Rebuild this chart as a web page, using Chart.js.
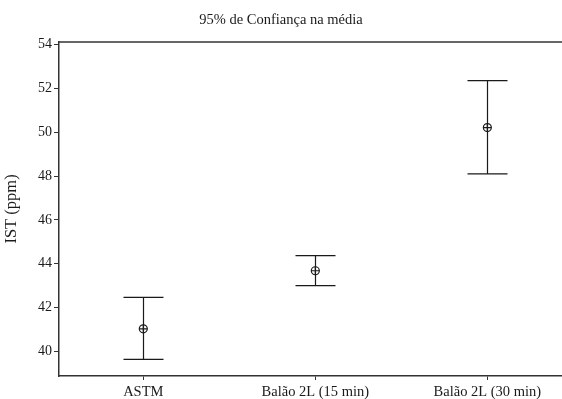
<!DOCTYPE html>
<html><head><meta charset="utf-8">
<script src="https://cdn.jsdelivr.net/npm/chart.js@4/dist/chart.umd.min.js"></script>
<style>html,body{margin:0;padding:0;background:#fff;}#wrap{width:562px;height:399px;}</style>
</head><body><div id="wrap"><canvas id="c" width="562" height="399"></canvas></div>
<script>
const categories = ['ASTM', 'Balão 2L (15 min)', 'Balão 2L (30 min)'];
const means = [41.03, 43.68, 50.21];
const lower = [39.64, 43.0, 48.1];
const upper = [42.47, 44.37, 52.35];
const yTicks = [40, 42, 44, 46, 48, 50, 52, 54];

const FONT = "'Liberation Serif', 'Times New Roman', serif";
const INK = '#1a1a1a';

const errorBars = {
  id: 'errorBars',
  afterDatasetsDraw(chart) {
    const ctx = chart.ctx, xs = chart.scales.x, ys = chart.scales.y;
    ctx.save();
    ctx.strokeStyle = INK;
    ctx.lineWidth = 1.2;
    for (let i = 0; i < categories.length; i++) {
      const x = Math.round(xs.getPixelForValue(i)) + 0.5;
      const yl = ys.getPixelForValue(lower[i]);
      const yh = ys.getPixelForValue(upper[i]);
      ctx.beginPath();
      ctx.moveTo(x, yh); ctx.lineTo(x, yl);
      ctx.moveTo(x - 20, yh); ctx.lineTo(x + 20, yh);
      ctx.moveTo(x - 20, yl); ctx.lineTo(x + 20, yl);
      ctx.stroke();
    }
    ctx.restore();
  }
};
const frame = {
  id: 'frame',
  afterDraw(chart) {
    const a = chart.chartArea, ctx = chart.ctx;
    ctx.save();
    ctx.strokeStyle = '#333';
    ctx.lineWidth = 1.5;
    ctx.beginPath();
    ctx.moveTo(a.left, a.top); ctx.lineTo(a.right, a.top);
    ctx.stroke();
    ctx.restore();
  }
};

const pts = means.map((m, i) => ({x: i, y: m}));
new Chart(document.getElementById('c'), {
  type: 'scatter',
  data: {
    datasets: [
      {data: pts, pointStyle: 'circle', pointRadius: 4, borderColor: INK, backgroundColor: 'rgba(0,0,0,0)', borderWidth: 1.2},
      {data: pts, pointStyle: 'cross', pointRadius: 4, borderColor: INK, borderWidth: 1.2}
    ]
  },
  options: {
    responsive: false,
    animation: false,
    layout: {autoPadding: false, padding: {left: 0, right: 0, top: 0, bottom: 0}},
    plugins: {
      legend: {display: false},
      tooltip: {enabled: false},
      title: {display: true, text: '95% de Confiança na média', color: INK,
        font: {family: FONT, size: 14.5, weight: 'normal'}, padding: {top: 11, bottom: 13.5}}
    },
    scales: {
      x: {
        type: 'linear', min: -0.49, max: 2.434,
        afterBuildTicks: s => { s.ticks = [0, 1, 2].map(v => ({value: v})); },
        afterFit: s => { s.height = 23; s.paddingLeft = 0; s.paddingRight = 0; },
        border: {display: true, color: '#333', width: 1.5},
        grid: {display: true, drawOnChartArea: false, drawTicks: true, tickLength: 4, color: '#333', lineWidth: 1},
        ticks: {callback: v => categories[v], color: INK, font: {family: FONT, size: 14.5}, padding: 3, maxRotation: 0, autoSkip: false}
      },
      y: {
        type: 'linear', min: 38.88, max: 54.12,
        afterBuildTicks: s => { s.ticks = yTicks.map(v => ({value: v})); },
        afterFit: s => { s.width = 59; s.paddingTop = 0; s.paddingBottom = 0; },
        border: {display: true, color: '#333', width: 1.5},
        grid: {display: true, drawOnChartArea: false, drawTicks: true, tickLength: 5, color: '#333', lineWidth: 1},
        ticks: {color: INK, font: {family: FONT, size: 14}, padding: 2},
        title: {display: true, text: 'IST (ppm)', color: INK, font: {family: FONT, size: 16.5}, padding: {top: 2, bottom: 4}}
      }
    }
  },
  plugins: [errorBars, frame]
});
</script></body></html>
